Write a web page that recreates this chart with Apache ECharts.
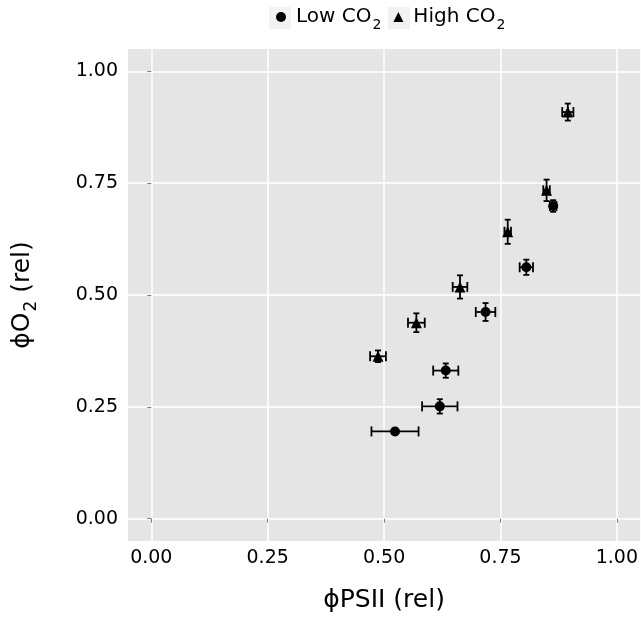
<!DOCTYPE html>
<html>
<head>
<meta charset="utf-8">
<script src="https://cdn.jsdelivr.net/npm/echarts@6/dist/echarts.min.js"></script>
<style>html,body{margin:0;padding:0;background:#fff}#c{width:641px;height:618px}</style>
</head>
<body>
<div id="c"></div>
<script>
// Data
const tickValues = [0, 0.25, 0.5, 0.75, 1.0];

const lowX    = [0.5235, 0.6197, 0.6325, 0.718, 0.8056, 0.8632];
const lowY    = [0.195, 0.251, 0.331, 0.462, 0.562, 0.699];
const lowXErr = [0.0506, 0.038, 0.027, 0.021, 0.0143, 0.007];
const lowYErr = [0.005, 0.016, 0.016, 0.020, 0.017, 0.013];

const highX    = [0.487, 0.5694, 0.6631, 0.7656, 0.849, 0.8947];
const highY    = [0.363, 0.438, 0.518, 0.6414, 0.734, 0.909];
const highXErr = [0.017, 0.018, 0.0157, 0.007, 0.007, 0.012];
const highYErr = [0.013, 0.021, 0.026, 0.027, 0.024, 0.019];

const FONT = 'DejaVu Sans';

function pts(xs, ys) { return xs.map((x, i) => [x, ys[i]]); }
function errs(xs, ys, xe, ye) { return xs.map((x, i) => [x, ys[i], xe[i], ye[i]]); }

function renderErr(params, api) {
  const x = api.value(0), y = api.value(1), xe = api.value(2), ye = api.value(3);
  const c = api.coord([x, y]);
  const l = api.coord([x - xe, y]), r = api.coord([x + xe, y]);
  const t = api.coord([x, y + ye]), b = api.coord([x, y - ye]);
  const st = { stroke: '#000', lineWidth: 1.8, fill: null };
  const capH = 5, capW = 3;
  const L = (x1, y1, x2, y2) => ({ type: 'line', shape: { x1, y1, x2, y2 }, style: st });
  return {
    type: 'group',
    children: [
      L(l[0], c[1], r[0], c[1]),
      L(l[0], c[1] - capH, l[0], c[1] + capH),
      L(r[0], c[1] - capH, r[0], c[1] + capH),
      L(c[0], t[1], c[0], b[1]),
      L(c[0] - capW, t[1], c[0] + capW, t[1]),
      L(c[0] - capW, b[1], c[0] + capW, b[1])
    ]
  };
}

const chart = echarts.init(document.getElementById('c'), null, { renderer: 'canvas' });

const axisCommon = {
  type: 'value',
  min: -0.05,
  max: 1.05,
  axisLine: { show: false },
  axisTick: { show: true, length: 4, lineStyle: { color: '#7f7f7f', width: 1 }, customValues: tickValues },
  axisLabel: { customValues: tickValues, formatter: v => v.toFixed(2), color: '#000', fontFamily: FONT, fontSize: 19 },
  splitLine: { show: true, lineStyle: { color: '#ffffff', width: 1.5 } },
  nameLocation: 'middle'
};

chart.setOption({
  animation: false,
  backgroundColor: '#ffffff',
  grid: { left: 128, top: 49, right: -1, bottom: 76, show: true, backgroundColor: '#e5e5e5', borderWidth: 0 },
  graphic: [
    { type: 'rect', left: 269, top: 7, z: 0, shape: { width: 22, height: 22 }, style: { fill: '#f2f2f2' } },
    { type: 'rect', left: 388, top: 7, z: 0, shape: { width: 22, height: 22 }, style: { fill: '#f2f2f2' } }
  ],
  legend: {
    top: 2,
    left: 271,
    z: 5,
    itemWidth: 10,
    itemHeight: 10,
    itemGap: 12,
    data: [
      { name: 'Low CO2', icon: 'circle' },
      { name: 'High CO2', icon: 'triangle' }
    ],
    formatter: n => n === 'Low CO2' ? '{n|Low CO}{s|2}' : '{n|High CO}{s|2}',
    textStyle: {
      color: '#000',
      fontFamily: FONT,
      rich: {
        n: { fontSize: 20, fontFamily: FONT, color: '#000', padding: [0, 0, 0, 5] },
        s: { fontSize: 14, fontFamily: FONT, color: '#000', padding: [16, 0, 0, 1] }
      }
    }
  },
  xAxis: Object.assign({}, axisCommon, {
    axisLabel: Object.assign({}, axisCommon.axisLabel, { margin: 8 }),
    name: 'ϕPSII (rel)',
    nameGap: 47,
    nameTextStyle: { fontFamily: FONT, fontSize: 25, color: '#000' }
  }),
  yAxis: Object.assign({}, axisCommon, {
    axisLabel: Object.assign({}, axisCommon.axisLabel, { margin: 10 }),
    name: '{n|ϕO}{s|2}{n| (rel)}',
    nameGap: 88,
    nameRotate: 90,
    nameTextStyle: {
      fontFamily: FONT, fontSize: 25, color: '#000',
      rich: {
        n: { fontFamily: FONT, fontSize: 25, color: '#000' },
        s: { fontFamily: FONT, fontSize: 17, color: '#000', padding: [18, 0, 0, 1] }
      }
    }
  }),
  series: [
    {
      name: 'Low CO2 err', type: 'custom', renderItem: renderErr,
      data: errs(lowX, lowY, lowXErr, lowYErr), encode: { x: 0, y: 1 }, z: 2, silent: true
    },
    {
      name: 'High CO2 err', type: 'custom', renderItem: renderErr,
      data: errs(highX, highY, highXErr, highYErr), encode: { x: 0, y: 1 }, z: 2, silent: true
    },
    {
      name: 'Low CO2', type: 'scatter', symbol: 'circle', symbolSize: 10,
      itemStyle: { color: '#000', opacity: 1 }, data: pts(lowX, lowY), z: 3
    },
    {
      name: 'High CO2', type: 'scatter', symbol: 'triangle', symbolSize: 11,
      itemStyle: { color: '#000', opacity: 1 }, data: pts(highX, highY), z: 3
    }
  ]
});
</script>
</body>
</html>
